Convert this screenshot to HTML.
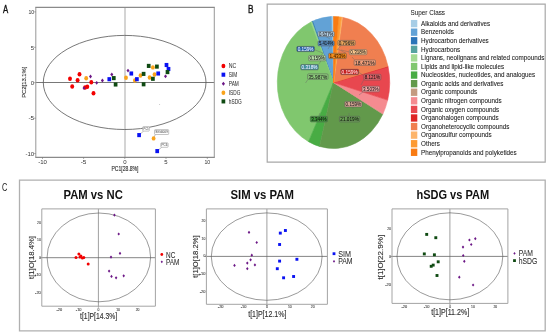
<!DOCTYPE html>
<html><head><meta charset="utf-8"><style>
html,body{margin:0;padding:0;background:#fff;width:550px;height:336px;overflow:hidden}
svg{display:block;font-family:"Liberation Sans", sans-serif;filter:blur(0.4px)}
</style></head><body>
<svg width="550" height="336" viewBox="0 0 550 336">
<rect width="550" height="336" fill="#fff"/>
<text x="3.00" y="12.50" font-size="10" text-anchor="start" fill="#111" textLength="5.20" lengthAdjust="spacingAndGlyphs" stroke="#111" stroke-width="0.35" >A</text>
<line x1="125" y1="7.5" x2="125" y2="157" stroke="#c2c2c2" stroke-width="1.4"/>
<line x1="36" y1="82.5" x2="214.2" y2="82.5" stroke="#606060" stroke-width="0.85"/>
<ellipse cx="124.65" cy="82.45" rx="81.35" ry="47.05" fill="none" stroke="#555" stroke-width="0.8"/>
<path d="M35.8 7.4V157.3M214.3 7.4V157.3" fill="none" stroke="#9c9c9c" stroke-width="1.05"/>
<path d="M35.3 7.4H214.8M35.3 157.3H214.8" fill="none" stroke="#8a8a8a" stroke-width="1.2"/>
<line x1="34" y1="11.9" x2="35.9" y2="11.9" stroke="#777" stroke-width="0.6"/>
<text x="34.20" y="14.10" font-size="6" text-anchor="end" fill="#333" textLength="5.80" lengthAdjust="spacingAndGlyphs" >10</text>
<line x1="34" y1="47.3" x2="35.9" y2="47.3" stroke="#777" stroke-width="0.6"/>
<text x="34.20" y="49.50" font-size="6" text-anchor="end" fill="#333" >5</text>
<line x1="34" y1="82.7" x2="35.9" y2="82.7" stroke="#777" stroke-width="0.6"/>
<text x="34.20" y="84.90" font-size="6" text-anchor="end" fill="#333" >0</text>
<line x1="34" y1="118.2" x2="35.9" y2="118.2" stroke="#777" stroke-width="0.6"/>
<text x="34.20" y="120.40" font-size="6" text-anchor="end" fill="#333" textLength="5.80" lengthAdjust="spacingAndGlyphs" >-5</text>
<line x1="34" y1="153.6" x2="35.9" y2="153.6" stroke="#777" stroke-width="0.6"/>
<text x="34.20" y="155.80" font-size="6" text-anchor="end" fill="#333" textLength="8.70" lengthAdjust="spacingAndGlyphs" >-10</text>
<line x1="42.5" y1="157.3" x2="42.5" y2="159" stroke="#777" stroke-width="0.6"/>
<text x="42.50" y="163.80" font-size="6" text-anchor="middle" fill="#333" textLength="8.70" lengthAdjust="spacingAndGlyphs" >-10</text>
<line x1="83.6" y1="157.3" x2="83.6" y2="159" stroke="#777" stroke-width="0.6"/>
<text x="83.60" y="163.80" font-size="6" text-anchor="middle" fill="#333" textLength="5.80" lengthAdjust="spacingAndGlyphs" >-5</text>
<line x1="124.8" y1="157.3" x2="124.8" y2="159" stroke="#777" stroke-width="0.6"/>
<text x="124.80" y="163.80" font-size="6" text-anchor="middle" fill="#333" >0</text>
<line x1="166" y1="157.3" x2="166" y2="159" stroke="#777" stroke-width="0.6"/>
<text x="166.00" y="163.80" font-size="6" text-anchor="middle" fill="#333" >5</text>
<line x1="207.3" y1="157.3" x2="207.3" y2="159" stroke="#777" stroke-width="0.6"/>
<text x="207.30" y="163.80" font-size="6" text-anchor="middle" fill="#333" textLength="5.80" lengthAdjust="spacingAndGlyphs" >10</text>
<g transform="translate(23.40,82.20) scale(0.865,1)"><text transform="rotate(-90)" x="0" y="2.60" font-size="6.5" text-anchor="middle" fill="#333" textLength="31.3" lengthAdjust="spacingAndGlyphs" stroke="#333" stroke-width="0.15">PC2[13.1%]</text></g>
<text x="125.00" y="171.00" font-size="6.5" text-anchor="middle" fill="#333" textLength="27.00" lengthAdjust="spacingAndGlyphs" stroke="#333" stroke-width="0.15" >PC1[28.8%]</text>
<line x1="139.1" y1="135.1" x2="143.5" y2="131.1" stroke="#777" stroke-width="0.5"/>
<rect x="142.7" y="126.6" width="6.60" height="4.50" rx="0.8" fill="#fff" stroke="#888" stroke-width="0.5"/>
<text x="146.00" y="129.90" font-size="3.2" text-anchor="middle" fill="#333" textLength="5.10" lengthAdjust="spacingAndGlyphs" >PC5</text>
<line x1="153.6" y1="138.4" x2="155.3" y2="134.5" stroke="#777" stroke-width="0.5"/>
<rect x="154.5" y="129.6" width="14.20" height="4.90" rx="0.8" fill="#fff" stroke="#888" stroke-width="0.5"/>
<text x="161.60" y="133.30" font-size="3.2" text-anchor="middle" fill="#333" textLength="12.70" lengthAdjust="spacingAndGlyphs" >SIG4009</text>
<line x1="157.2" y1="151.1" x2="161.60000000000002" y2="147.3" stroke="#777" stroke-width="0.5"/>
<rect x="160.8" y="142.8" width="7.30" height="4.50" rx="0.8" fill="#fff" stroke="#888" stroke-width="0.5"/>
<text x="164.45" y="146.10" font-size="3.2" text-anchor="middle" fill="#333" textLength="5.80" lengthAdjust="spacingAndGlyphs" >PC6</text>
<ellipse cx="70.00" cy="78.80" rx="1.95" ry="2.25" fill="#f20000"/>
<ellipse cx="79.50" cy="74.30" rx="1.95" ry="2.25" fill="#f20000"/>
<ellipse cx="77.60" cy="80.30" rx="1.95" ry="2.25" fill="#f20000"/>
<ellipse cx="72.20" cy="86.50" rx="1.95" ry="2.25" fill="#f20000"/>
<ellipse cx="91.30" cy="82.30" rx="1.95" ry="2.25" fill="#f20000"/>
<ellipse cx="87.30" cy="86.80" rx="1.95" ry="2.25" fill="#f20000"/>
<ellipse cx="85.10" cy="87.40" rx="1.95" ry="2.25" fill="#f20000"/>
<ellipse cx="93.50" cy="93.20" rx="1.95" ry="2.25" fill="#f20000"/>
<ellipse cx="86.20" cy="78.30" rx="1.9" ry="2.2" fill="#f9a31b"/>
<ellipse cx="126.00" cy="77.70" rx="1.9" ry="2.2" fill="#f9a31b"/>
<ellipse cx="134.90" cy="80.50" rx="1.9" ry="2.2" fill="#f9a31b"/>
<ellipse cx="140.50" cy="75.50" rx="1.9" ry="2.2" fill="#f9a31b"/>
<ellipse cx="152.90" cy="67.40" rx="1.9" ry="2.2" fill="#f9a31b"/>
<ellipse cx="149.60" cy="77.50" rx="1.9" ry="2.2" fill="#f9a31b"/>
<ellipse cx="154.50" cy="74.50" rx="1.9" ry="2.2" fill="#f9a31b"/>
<ellipse cx="153.60" cy="138.40" rx="1.9" ry="2.2" fill="#f9a31b"/>
<path d="M90.50 74.60L92.02 76.50L90.50 78.40L88.98 76.50Z" fill="#6c1786"/>
<path d="M84.00 86.20L85.52 88.10L84.00 90.00L82.48 88.10Z" fill="#6c1786"/>
<path d="M96.70 80.90L98.22 82.80L96.70 84.70L95.18 82.80Z" fill="#6c1786"/>
<path d="M102.40 78.60L103.92 80.50L102.40 82.40L100.88 80.50Z" fill="#6c1786"/>
<path d="M111.80 72.60L113.32 74.50L111.80 76.40L110.28 74.50Z" fill="#6c1786"/>
<path d="M128.00 68.70L129.52 70.60L128.00 72.50L126.48 70.60Z" fill="#6c1786"/>
<path d="M165.50 74.40L167.02 76.30L165.50 78.20L163.98 76.30Z" fill="#6c1786"/>
<rect x="107.45" y="77.15" width="3.7" height="4.1" fill="#0a12f2"/>
<rect x="129.45" y="71.45" width="3.7" height="4.1" fill="#0a12f2"/>
<rect x="135.05" y="77.15" width="3.7" height="4.1" fill="#0a12f2"/>
<rect x="156.35" y="71.45" width="3.7" height="4.1" fill="#0a12f2"/>
<rect x="164.65" y="62.95" width="3.7" height="4.1" fill="#0a12f2"/>
<rect x="166.65" y="66.95" width="3.7" height="4.1" fill="#0a12f2"/>
<rect x="137.25" y="133.05" width="3.7" height="4.1" fill="#0a12f2"/>
<rect x="155.35" y="149.05" width="3.7" height="4.1" fill="#0a12f2"/>
<rect x="111.95" y="76.05" width="3.7" height="4.1" fill="#0f4a12"/>
<rect x="113.75" y="82.45" width="3.7" height="4.1" fill="#0f4a12"/>
<rect x="141.75" y="71.85" width="3.7" height="4.1" fill="#0f4a12"/>
<rect x="141.75" y="82.25" width="3.7" height="4.1" fill="#0f4a12"/>
<rect x="146.85" y="63.85" width="3.7" height="4.1" fill="#0f4a12"/>
<rect x="155.05" y="64.55" width="3.7" height="4.1" fill="#0f4a12"/>
<rect x="151.05" y="76.75" width="3.7" height="4.1" fill="#0f4a12"/>
<rect x="165.65" y="70.05" width="3.7" height="4.1" fill="#0f4a12"/>
<circle cx="159.60" cy="104.50" r="0.5" fill="#bbb"/>
<ellipse cx="223.40" cy="66.00" rx="1.95" ry="2.25" fill="#f20000"/>
<rect x="221.55" y="72.65" width="3.7" height="4.1" fill="#0a12f2"/>
<path d="M223.40 81.70L225.00 83.70L223.40 85.70L221.80 83.70Z" fill="#6c1786"/>
<ellipse cx="223.40" cy="92.70" rx="1.9" ry="2.2" fill="#f9a31b"/>
<rect x="221.55" y="99.35" width="3.7" height="4.1" fill="#0f4a12"/>
<text x="228.80" y="68.40" font-size="6.8" text-anchor="start" fill="#333" textLength="7.50" lengthAdjust="spacingAndGlyphs" stroke="#333" stroke-width="0.05" >NC</text>
<text x="228.80" y="77.10" font-size="6.8" text-anchor="start" fill="#333" textLength="8.50" lengthAdjust="spacingAndGlyphs" stroke="#333" stroke-width="0.05" >SIM</text>
<text x="228.80" y="86.10" font-size="6.8" text-anchor="start" fill="#333" textLength="10.00" lengthAdjust="spacingAndGlyphs" stroke="#333" stroke-width="0.05" >PAM</text>
<text x="228.80" y="95.10" font-size="6.8" text-anchor="start" fill="#333" textLength="11.50" lengthAdjust="spacingAndGlyphs" stroke="#333" stroke-width="0.05" >ISDG</text>
<text x="228.80" y="103.80" font-size="6.8" text-anchor="start" fill="#333" textLength="13.00" lengthAdjust="spacingAndGlyphs" stroke="#333" stroke-width="0.05" >hSDG</text>
<text x="248.00" y="12.80" font-size="10" text-anchor="start" fill="#111" textLength="5.50" lengthAdjust="spacingAndGlyphs" stroke="#111" stroke-width="0.35" >B</text>
<path d="M267.2 4.2H545.2V162.1H267.2Z" fill="none" stroke="#a8a8a8" stroke-width="1.2"/>
<path d="M333.5 82.5L333.50 16.50A56.2 66.0 0 0 0 331.25 16.55Z" fill="#a6cde6" stroke="#a6cde6" stroke-width="0.6" stroke-linejoin="round"/>
<path d="M333.5 82.5L331.25 16.55A56.2 66.0 0 0 0 312.64 21.21Z" fill="#62a2d6" stroke="#62a2d6" stroke-width="0.6" stroke-linejoin="round"/>
<path d="M333.5 82.5L312.64 21.21A56.2 66.0 0 0 0 312.12 21.46Z" fill="#2b74b8" stroke="#2b74b8" stroke-width="0.6" stroke-linejoin="round"/>
<path d="M333.5 82.5L312.12 21.46A56.2 66.0 0 0 0 311.60 21.71Z" fill="#56a3a0" stroke="#56a3a0" stroke-width="0.6" stroke-linejoin="round"/>
<path d="M333.5 82.5L311.60 21.71A56.2 66.0 0 0 0 310.58 22.24Z" fill="#a3da92" stroke="#a3da92" stroke-width="0.6" stroke-linejoin="round"/>
<path d="M333.5 82.5L310.58 22.24A56.2 66.0 0 0 0 308.54 141.63Z" fill="#80c76e" stroke="#80c76e" stroke-width="0.6" stroke-linejoin="round"/>
<path d="M333.5 82.5L308.54 141.63A56.2 66.0 0 0 0 319.59 146.45Z" fill="#48ac44" stroke="#48ac44" stroke-width="0.6" stroke-linejoin="round"/>
<path d="M333.5 82.5L319.59 146.45A56.2 66.0 0 0 0 382.81 114.15Z" fill="#62994b" stroke="#62994b" stroke-width="0.6" stroke-linejoin="round"/>
<path d="M333.5 82.5L382.81 114.15A56.2 66.0 0 0 0 383.08 113.57Z" fill="#c49b80" stroke="#c49b80" stroke-width="0.6" stroke-linejoin="round"/>
<path d="M333.5 82.5L383.08 113.57A56.2 66.0 0 0 0 387.66 100.11Z" fill="#f58b90" stroke="#f58b90" stroke-width="0.6" stroke-linejoin="round"/>
<path d="M333.5 82.5L387.66 100.11A56.2 66.0 0 0 0 388.09 66.80Z" fill="#e8474f" stroke="#e8474f" stroke-width="0.6" stroke-linejoin="round"/>
<path d="M333.5 82.5L388.09 66.80A56.2 66.0 0 0 0 387.95 66.16Z" fill="#de2424" stroke="#de2424" stroke-width="0.6" stroke-linejoin="round"/>
<path d="M333.5 82.5L387.95 66.16A56.2 66.0 0 0 0 342.46 17.34Z" fill="#f07f50" stroke="#f07f50" stroke-width="0.6" stroke-linejoin="round"/>
<path d="M333.5 82.5L342.46 17.34A56.2 66.0 0 0 0 341.35 17.15Z" fill="#fdb46a" stroke="#fdb46a" stroke-width="0.6" stroke-linejoin="round"/>
<path d="M333.5 82.5L341.35 17.15A56.2 66.0 0 0 0 338.55 16.77Z" fill="#fd9a32" stroke="#fd9a32" stroke-width="0.6" stroke-linejoin="round"/>
<path d="M333.5 82.5L338.55 16.77A56.2 66.0 0 0 0 333.50 16.50Z" fill="#f97b12" stroke="#f97b12" stroke-width="0.6" stroke-linejoin="round"/>
<line x1="326" y1="36.6" x2="330" y2="39" stroke="#666" stroke-width="0.4"/>
<line x1="330" y1="45.9" x2="328" y2="49" stroke="#666" stroke-width="0.4"/>
<line x1="313.8" y1="49.5" x2="323" y2="53" stroke="#666" stroke-width="0.4"/>
<line x1="323" y1="53" x2="321" y2="55.6" stroke="#666" stroke-width="0.4"/>
<line x1="321" y1="60.8" x2="318.5" y2="64.6" stroke="#666" stroke-width="0.4"/>
<line x1="308" y1="79.4" x2="305.5" y2="83" stroke="#666" stroke-width="0.4"/>
<line x1="341" y1="45.4" x2="337" y2="50" stroke="#666" stroke-width="0.4"/>
<line x1="349.4" y1="52" x2="341" y2="50" stroke="#666" stroke-width="0.4"/>
<line x1="346" y1="53.3" x2="338" y2="49" stroke="#666" stroke-width="0.4"/>
<line x1="354.5" y1="59.8" x2="352" y2="57" stroke="#666" stroke-width="0.4"/>
<line x1="358" y1="71.5" x2="364" y2="76" stroke="#666" stroke-width="0.4"/>
<line x1="364" y1="79.4" x2="361" y2="85" stroke="#666" stroke-width="0.4"/>
<line x1="363" y1="91.9" x2="359" y2="95" stroke="#666" stroke-width="0.4"/>
<line x1="353" y1="106.9" x2="353" y2="109" stroke="#666" stroke-width="0.4"/>
<line x1="318.5" y1="116.3" x2="320" y2="113" stroke="#666" stroke-width="0.4"/>
<line x1="349" y1="116.3" x2="349" y2="113" stroke="#666" stroke-width="0.4"/>
<rect x="318.0" y="31.6" width="16.20" height="5.00" rx="1" fill="#b5d0e6" stroke="#555" stroke-width="0.5"/>
<text x="326.10" y="35.70" font-size="5.8" text-anchor="middle" fill="#222" textLength="14.40" lengthAdjust="spacingAndGlyphs" stroke="#222" stroke-width="0.08" >0.637%</text>
<rect x="318.0" y="40.9" width="16.20" height="5.00" rx="1" fill="#5a90c4" stroke="#555" stroke-width="0.5"/>
<text x="326.10" y="45.00" font-size="5.8" text-anchor="middle" fill="#111" textLength="14.40" lengthAdjust="spacingAndGlyphs" stroke="#111" stroke-width="0.08" >5.414%</text>
<rect x="296.8" y="46.4" width="17.60" height="5.20" rx="1" fill="#1f5fa3" stroke="#555" stroke-width="0.5"/>
<text x="305.60" y="50.70" font-size="5.8" text-anchor="middle" fill="#eef" textLength="15.80" lengthAdjust="spacingAndGlyphs" stroke="#eef" stroke-width="0.08" >0.159%</text>
<rect x="308.6" y="55.6" width="17.10" height="5.20" rx="1" fill="#b5daa6" stroke="#555" stroke-width="0.5"/>
<text x="317.15" y="59.90" font-size="5.8" text-anchor="middle" fill="#222" textLength="15.30" lengthAdjust="spacingAndGlyphs" stroke="#222" stroke-width="0.08" >0.159%</text>
<rect x="300.7" y="64.6" width="17.60" height="5.20" rx="1" fill="#3e8d9a" stroke="#555" stroke-width="0.5"/>
<text x="309.50" y="68.90" font-size="5.8" text-anchor="middle" fill="#eef" textLength="15.80" lengthAdjust="spacingAndGlyphs" stroke="#eef" stroke-width="0.08" >0.318%</text>
<rect x="307.6" y="73.9" width="20.40" height="5.50" rx="1" fill="#8ccc7a" stroke="#555" stroke-width="0.5"/>
<text x="317.80" y="78.50" font-size="5.8" text-anchor="middle" fill="#222" textLength="18.60" lengthAdjust="spacingAndGlyphs" stroke="#222" stroke-width="0.08" >35.987%</text>
<rect x="337.8" y="40.4" width="17.40" height="5.00" rx="1" fill="#eaa55c" stroke="#555" stroke-width="0.5"/>
<text x="346.50" y="44.50" font-size="5.8" text-anchor="middle" fill="#222" textLength="15.60" lengthAdjust="spacingAndGlyphs" stroke="#222" stroke-width="0.08" >0.796%</text>
<rect x="349.4" y="49.6" width="17.40" height="5.10" rx="1" fill="#fbc88e" stroke="#555" stroke-width="0.5"/>
<text x="358.10" y="53.80" font-size="5.8" text-anchor="middle" fill="#222" textLength="15.60" lengthAdjust="spacingAndGlyphs" stroke="#222" stroke-width="0.08" >0.318%</text>
<rect x="328.6" y="53.3" width="17.80" height="5.30" rx="1" fill="#f28c1c" stroke="#555" stroke-width="0.5"/>
<text x="337.50" y="57.70" font-size="5.8" text-anchor="middle" fill="#3a1a00" textLength="16.00" lengthAdjust="spacingAndGlyphs" stroke="#3a1a00" stroke-width="0.08" >1.433%</text>
<rect x="354.1" y="60.0" width="21.40" height="5.40" rx="1" fill="#f3a07a" stroke="#555" stroke-width="0.5"/>
<text x="364.80" y="64.50" font-size="5.8" text-anchor="middle" fill="#222" textLength="19.60" lengthAdjust="spacingAndGlyphs" stroke="#222" stroke-width="0.08" >18.471%</text>
<rect x="340.7" y="69.3" width="17.90" height="5.30" rx="1" fill="#c41e1e" stroke="#555" stroke-width="0.5"/>
<text x="349.65" y="73.70" font-size="5.8" text-anchor="middle" fill="#fdd" textLength="16.10" lengthAdjust="spacingAndGlyphs" stroke="#fdd" stroke-width="0.08" >0.159%</text>
<rect x="363.9" y="74.3" width="17.00" height="5.70" rx="1" fill="#e7646a" stroke="#555" stroke-width="0.5"/>
<text x="372.40" y="79.10" font-size="5.8" text-anchor="middle" fill="#111" textLength="15.20" lengthAdjust="spacingAndGlyphs" stroke="#111" stroke-width="0.08" >8.121%</text>
<rect x="362.1" y="86.25" width="17.40" height="5.55" rx="1" fill="#f6a4a4" stroke="#555" stroke-width="0.5"/>
<text x="370.80" y="90.90" font-size="5.8" text-anchor="middle" fill="#222" textLength="15.60" lengthAdjust="spacingAndGlyphs" stroke="#222" stroke-width="0.08" >3.503%</text>
<rect x="344.7" y="101.6" width="17.20" height="5.30" rx="1" fill="#d8a896" stroke="#555" stroke-width="0.5"/>
<text x="353.30" y="106.00" font-size="5.8" text-anchor="middle" fill="#222" textLength="15.40" lengthAdjust="spacingAndGlyphs" stroke="#222" stroke-width="0.08" >0.159%</text>
<rect x="310.3" y="116.3" width="17.20" height="5.60" rx="1" fill="#3f9a3b" stroke="#555" stroke-width="0.5"/>
<text x="318.90" y="121.00" font-size="5.8" text-anchor="middle" fill="#111" textLength="15.40" lengthAdjust="spacingAndGlyphs" stroke="#111" stroke-width="0.08" >3.344%</text>
<rect x="339.4" y="116.3" width="20.30" height="5.60" rx="1" fill="#6aa255" stroke="#555" stroke-width="0.5"/>
<text x="349.55" y="121.00" font-size="5.8" text-anchor="middle" fill="#111" textLength="18.50" lengthAdjust="spacingAndGlyphs" stroke="#111" stroke-width="0.08" >21.019%</text>
<text x="410.50" y="14.60" font-size="8" text-anchor="start" fill="#1a1a1a" textLength="34.50" lengthAdjust="spacingAndGlyphs" stroke="#1a1a1a" stroke-width="0.05" >Super Class</text>
<rect x="410.9" y="19.95" width="6.4" height="7.3" fill="#a6cde6"/>
<text x="421.00" y="25.85" font-size="8" text-anchor="start" fill="#1a1a1a" textLength="69.17" lengthAdjust="spacingAndGlyphs" stroke="#1a1a1a" stroke-width="0.08" >Alkaloids and derivatives</text>
<rect x="410.9" y="28.53" width="6.4" height="7.3" fill="#62a2d6"/>
<text x="421.00" y="34.43" font-size="8" text-anchor="start" fill="#1a1a1a" textLength="32.84" lengthAdjust="spacingAndGlyphs" stroke="#1a1a1a" stroke-width="0.08" >Benzenoids</text>
<rect x="410.9" y="37.11" width="6.4" height="7.3" fill="#2b74b8"/>
<text x="421.00" y="43.01" font-size="8" text-anchor="start" fill="#1a1a1a" textLength="67.77" lengthAdjust="spacingAndGlyphs" stroke="#1a1a1a" stroke-width="0.08" >Hydrocarbon derivatives</text>
<rect x="410.9" y="45.69" width="6.4" height="7.3" fill="#56a3a0"/>
<text x="421.00" y="51.59" font-size="8" text-anchor="start" fill="#1a1a1a" textLength="39.12" lengthAdjust="spacingAndGlyphs" stroke="#1a1a1a" stroke-width="0.08" >Hydrocarbons</text>
<rect x="410.9" y="54.27" width="6.4" height="7.3" fill="#a3da92"/>
<text x="421.00" y="60.17" font-size="8" text-anchor="start" fill="#1a1a1a" textLength="123.34" lengthAdjust="spacingAndGlyphs" stroke="#1a1a1a" stroke-width="0.08" >Lignans, neolignans and related compounds</text>
<rect x="410.9" y="62.85" width="6.4" height="7.3" fill="#80c76e"/>
<text x="421.00" y="68.75" font-size="8" text-anchor="start" fill="#1a1a1a" textLength="83.14" lengthAdjust="spacingAndGlyphs" stroke="#1a1a1a" stroke-width="0.08" >Lipids and lipid-like molecules</text>
<rect x="410.9" y="71.43" width="6.4" height="7.3" fill="#48ac44"/>
<text x="421.00" y="77.33" font-size="8" text-anchor="start" fill="#1a1a1a" textLength="114.25" lengthAdjust="spacingAndGlyphs" stroke="#1a1a1a" stroke-width="0.08" >Nucleosides, nucleotides, and analogues</text>
<rect x="410.9" y="80.01" width="6.4" height="7.3" fill="#62994b"/>
<text x="421.00" y="85.91" font-size="8" text-anchor="start" fill="#1a1a1a" textLength="82.44" lengthAdjust="spacingAndGlyphs" stroke="#1a1a1a" stroke-width="0.08" >Organic acids and derivatives</text>
<rect x="410.9" y="88.59" width="6.4" height="7.3" fill="#c49b80"/>
<text x="421.00" y="94.49" font-size="8" text-anchor="start" fill="#1a1a1a" textLength="56.24" lengthAdjust="spacingAndGlyphs" stroke="#1a1a1a" stroke-width="0.08" >Organic compounds</text>
<rect x="410.9" y="97.17" width="6.4" height="7.3" fill="#f58b90"/>
<text x="421.00" y="103.07" font-size="8" text-anchor="start" fill="#1a1a1a" textLength="80.70" lengthAdjust="spacingAndGlyphs" stroke="#1a1a1a" stroke-width="0.08" >Organic nitrogen compounds</text>
<rect x="410.9" y="105.75" width="6.4" height="7.3" fill="#e8474f"/>
<text x="421.00" y="111.65" font-size="8" text-anchor="start" fill="#1a1a1a" textLength="78.25" lengthAdjust="spacingAndGlyphs" stroke="#1a1a1a" stroke-width="0.08" >Organic oxygen compounds</text>
<rect x="410.9" y="114.33" width="6.4" height="7.3" fill="#de2424"/>
<text x="421.00" y="120.23" font-size="8" text-anchor="start" fill="#1a1a1a" textLength="77.56" lengthAdjust="spacingAndGlyphs" stroke="#1a1a1a" stroke-width="0.08" >Organohalogen compounds</text>
<rect x="410.9" y="122.91" width="6.4" height="7.3" fill="#f07f50"/>
<text x="421.00" y="128.81" font-size="8" text-anchor="start" fill="#1a1a1a" textLength="88.38" lengthAdjust="spacingAndGlyphs" stroke="#1a1a1a" stroke-width="0.08" >Organoheterocyclic compounds</text>
<rect x="410.9" y="131.49" width="6.4" height="7.3" fill="#fdb46a"/>
<text x="421.00" y="137.39" font-size="8" text-anchor="start" fill="#1a1a1a" textLength="70.57" lengthAdjust="spacingAndGlyphs" stroke="#1a1a1a" stroke-width="0.08" >Organosulfur compounds</text>
<rect x="410.9" y="140.07" width="6.4" height="7.3" fill="#fd9a32"/>
<text x="421.00" y="145.97" font-size="8" text-anchor="start" fill="#1a1a1a" textLength="18.86" lengthAdjust="spacingAndGlyphs" stroke="#1a1a1a" stroke-width="0.08" >Others</text>
<rect x="410.9" y="148.65" width="6.4" height="7.3" fill="#f97b12"/>
<text x="421.00" y="154.55" font-size="8" text-anchor="start" fill="#1a1a1a" textLength="95.73" lengthAdjust="spacingAndGlyphs" stroke="#1a1a1a" stroke-width="0.08" >Phenylpropanoids and polyketides</text>
<text x="2.10" y="190.80" font-size="11" text-anchor="start" fill="#222" textLength="5.30" lengthAdjust="spacingAndGlyphs" >C</text>
<path d="M19.5 180.2H545.2V330.8H19.5Z" fill="none" stroke="#b0b0b0" stroke-width="1.3"/>
<line x1="98.4" y1="208.9" x2="98.4" y2="307.7" stroke="#808080" stroke-width="0.75"/>
<line x1="40.3" y1="257.7" x2="155.4" y2="257.7" stroke="#666" stroke-width="0.8"/>
<ellipse cx="98.85" cy="257.4" rx="51.75" ry="44.4" fill="none" stroke="#555" stroke-width="0.6"/>
<path d="M41.8 208.9H155.4V306.2H41.8Z" fill="none" stroke="#a4a4a4" stroke-width="1"/>
<text x="63.50" y="198.60" font-size="12.3" text-anchor="start" fill="#111" font-weight="bold" textLength="59.30" lengthAdjust="spacingAndGlyphs" >PAM vs NC</text>
<text x="59.30" y="311.10" font-size="4.0" text-anchor="middle" fill="#444" textLength="5.70" lengthAdjust="spacingAndGlyphs" stroke="#444" stroke-width="0.1" >-20</text>
<text x="78.70" y="311.10" font-size="4.0" text-anchor="middle" fill="#444" textLength="5.70" lengthAdjust="spacingAndGlyphs" stroke="#444" stroke-width="0.1" >-10</text>
<text x="98.40" y="311.10" font-size="4.0" text-anchor="middle" fill="#444" textLength="1.90" lengthAdjust="spacingAndGlyphs" stroke="#444" stroke-width="0.1" >0</text>
<text x="118.10" y="311.10" font-size="4.0" text-anchor="middle" fill="#444" textLength="3.80" lengthAdjust="spacingAndGlyphs" stroke="#444" stroke-width="0.1" >10</text>
<text x="137.60" y="311.10" font-size="4.0" text-anchor="middle" fill="#444" textLength="3.80" lengthAdjust="spacingAndGlyphs" stroke="#444" stroke-width="0.1" >20</text>
<text x="40.80" y="224.00" font-size="4.0" text-anchor="end" fill="#444" textLength="3.80" lengthAdjust="spacingAndGlyphs" stroke="#444" stroke-width="0.1" >20</text>
<text x="40.80" y="241.40" font-size="4.0" text-anchor="end" fill="#444" textLength="3.80" lengthAdjust="spacingAndGlyphs" stroke="#444" stroke-width="0.1" >10</text>
<text x="40.80" y="258.90" font-size="4.0" text-anchor="end" fill="#444" textLength="1.90" lengthAdjust="spacingAndGlyphs" stroke="#444" stroke-width="0.1" >0</text>
<text x="40.80" y="276.30" font-size="4.0" text-anchor="end" fill="#444" textLength="5.70" lengthAdjust="spacingAndGlyphs" stroke="#444" stroke-width="0.1" >-10</text>
<text x="40.80" y="293.70" font-size="4.0" text-anchor="end" fill="#444" textLength="5.70" lengthAdjust="spacingAndGlyphs" stroke="#444" stroke-width="0.1" >-20</text>
<g transform="translate(30.60,257.50) scale(0.833,1)"><text transform="rotate(-90)" x="0" y="3.60" font-size="9" text-anchor="middle" fill="#333" textLength="43" lengthAdjust="spacingAndGlyphs" stroke="#333" stroke-width="0.15">t[1]O[18.4%]</text></g>
<text x="98.60" y="319.00" font-size="9" text-anchor="middle" fill="#333" textLength="37.00" lengthAdjust="spacingAndGlyphs" stroke="#333" stroke-width="0.15" >t[1]P[14.3%]</text>
<circle cx="161.80" cy="254.50" r="1.4" fill="#f20000"/>
<text x="166.00" y="257.50" font-size="8.2" text-anchor="start" fill="#2a2a2a" textLength="9.30" lengthAdjust="spacingAndGlyphs" stroke="#2a2a2a" stroke-width="0.05" >NC</text>
<path d="M161.80 260.40L162.92 261.80L161.80 263.20L160.68 261.80Z" fill="#6c1786"/>
<text x="166.00" y="264.80" font-size="8.2" text-anchor="start" fill="#2a2a2a" textLength="13.40" lengthAdjust="spacingAndGlyphs" stroke="#2a2a2a" stroke-width="0.05" >PAM</text>
<circle cx="76.00" cy="257.50" r="1.5" fill="#f20000"/>
<circle cx="78.90" cy="254.00" r="1.5" fill="#f20000"/>
<circle cx="80.90" cy="256.00" r="1.5" fill="#f20000"/>
<circle cx="82.40" cy="258.00" r="1.5" fill="#f20000"/>
<circle cx="83.80" cy="257.50" r="1.5" fill="#f20000"/>
<circle cx="88.20" cy="263.90" r="1.5" fill="#f20000"/>
<circle cx="80.00" cy="257.00" r="1.5" fill="#f20000"/>
<path d="M114.40 213.50L115.68 215.10L114.40 216.70L113.12 215.10Z" fill="#6c1786"/>
<path d="M118.70 232.40L119.98 234.00L118.70 235.60L117.42 234.00Z" fill="#6c1786"/>
<path d="M120.00 251.70L121.28 253.30L120.00 254.90L118.72 253.30Z" fill="#6c1786"/>
<path d="M111.00 255.50L112.28 257.10L111.00 258.70L109.72 257.10Z" fill="#6c1786"/>
<path d="M109.10 269.50L110.38 271.10L109.10 272.70L107.82 271.10Z" fill="#6c1786"/>
<path d="M111.50 274.80L112.78 276.40L111.50 278.00L110.22 276.40Z" fill="#6c1786"/>
<path d="M116.10 276.20L117.38 277.80L116.10 279.40L114.82 277.80Z" fill="#6c1786"/>
<path d="M123.70 274.20L124.98 275.80L123.70 277.40L122.42 275.80Z" fill="#6c1786"/>
<line x1="266.9" y1="208.9" x2="266.9" y2="305.8" stroke="#808080" stroke-width="0.75"/>
<line x1="204.9" y1="256.4" x2="327.4" y2="256.4" stroke="#666" stroke-width="0.8"/>
<ellipse cx="266.7" cy="256.6" rx="55.4" ry="43.7" fill="none" stroke="#555" stroke-width="0.6"/>
<path d="M206.4 208.9H327.4V304.3H206.4Z" fill="none" stroke="#a4a4a4" stroke-width="1"/>
<text x="230.50" y="198.60" font-size="12.3" text-anchor="start" fill="#111" font-weight="bold" textLength="63.40" lengthAdjust="spacingAndGlyphs" >SIM vs PAM</text>
<text x="220.70" y="308.10" font-size="4.0" text-anchor="middle" fill="#444" textLength="5.70" lengthAdjust="spacingAndGlyphs" stroke="#444" stroke-width="0.1" >-20</text>
<text x="243.60" y="308.10" font-size="4.0" text-anchor="middle" fill="#444" textLength="5.70" lengthAdjust="spacingAndGlyphs" stroke="#444" stroke-width="0.1" >-10</text>
<text x="266.90" y="308.10" font-size="4.0" text-anchor="middle" fill="#444" textLength="1.90" lengthAdjust="spacingAndGlyphs" stroke="#444" stroke-width="0.1" >0</text>
<text x="289.80" y="308.10" font-size="4.0" text-anchor="middle" fill="#444" textLength="3.80" lengthAdjust="spacingAndGlyphs" stroke="#444" stroke-width="0.1" >10</text>
<text x="312.70" y="308.10" font-size="4.0" text-anchor="middle" fill="#444" textLength="3.80" lengthAdjust="spacingAndGlyphs" stroke="#444" stroke-width="0.1" >20</text>
<text x="205.40" y="221.80" font-size="4.0" text-anchor="end" fill="#444" textLength="3.80" lengthAdjust="spacingAndGlyphs" stroke="#444" stroke-width="0.1" >20</text>
<text x="205.40" y="239.60" font-size="4.0" text-anchor="end" fill="#444" textLength="3.80" lengthAdjust="spacingAndGlyphs" stroke="#444" stroke-width="0.1" >10</text>
<text x="205.40" y="257.40" font-size="4.0" text-anchor="end" fill="#444" textLength="1.90" lengthAdjust="spacingAndGlyphs" stroke="#444" stroke-width="0.1" >0</text>
<text x="205.40" y="275.20" font-size="4.0" text-anchor="end" fill="#444" textLength="5.70" lengthAdjust="spacingAndGlyphs" stroke="#444" stroke-width="0.1" >-10</text>
<text x="205.40" y="293.40" font-size="4.0" text-anchor="end" fill="#444" textLength="5.70" lengthAdjust="spacingAndGlyphs" stroke="#444" stroke-width="0.1" >-20</text>
<g transform="translate(194.50,256.60) scale(0.833,1)"><text transform="rotate(-90)" x="0" y="3.60" font-size="9" text-anchor="middle" fill="#333" textLength="42.5" lengthAdjust="spacingAndGlyphs" stroke="#333" stroke-width="0.15">t[1]O[18.2%]</text></g>
<text x="267.30" y="317.00" font-size="9" text-anchor="middle" fill="#333" textLength="38.20" lengthAdjust="spacingAndGlyphs" stroke="#333" stroke-width="0.15" >t[1]P[12.1%]</text>
<rect x="332.60" y="252.30" width="2.8" height="2.8" fill="#0a12f2"/>
<text x="338.20" y="256.70" font-size="8.2" text-anchor="start" fill="#2a2a2a" textLength="12.80" lengthAdjust="spacingAndGlyphs" stroke="#2a2a2a" stroke-width="0.05" >SIM</text>
<path d="M334.00 259.90L335.12 261.30L334.00 262.70L332.88 261.30Z" fill="#6c1786"/>
<text x="338.20" y="264.30" font-size="8.2" text-anchor="start" fill="#2a2a2a" textLength="14.40" lengthAdjust="spacingAndGlyphs" stroke="#2a2a2a" stroke-width="0.05" >PAM</text>
<path d="M249.00 230.70L250.28 232.30L249.00 233.90L247.72 232.30Z" fill="#6c1786"/>
<path d="M256.70 240.90L257.98 242.50L256.70 244.10L255.42 242.50Z" fill="#6c1786"/>
<path d="M251.80 253.60L253.08 255.20L251.80 256.80L250.52 255.20Z" fill="#6c1786"/>
<path d="M250.60 258.20L251.88 259.80L250.60 261.40L249.32 259.80Z" fill="#6c1786"/>
<path d="M247.30 261.50L248.58 263.10L247.30 264.70L246.02 263.10Z" fill="#6c1786"/>
<path d="M254.90 263.30L256.18 264.90L254.90 266.50L253.62 264.90Z" fill="#6c1786"/>
<path d="M234.50 263.80L235.78 265.40L234.50 267.00L233.22 265.40Z" fill="#6c1786"/>
<path d="M247.30 267.10L248.58 268.70L247.30 270.30L246.02 268.70Z" fill="#6c1786"/>
<rect x="278.85" y="231.65" width="2.9" height="2.9" fill="#0a12f2"/>
<rect x="283.95" y="229.05" width="2.9" height="2.9" fill="#0a12f2"/>
<rect x="278.15" y="243.05" width="2.9" height="2.9" fill="#0a12f2"/>
<rect x="278.15" y="259.65" width="2.9" height="2.9" fill="#0a12f2"/>
<rect x="295.45" y="257.85" width="2.9" height="2.9" fill="#0a12f2"/>
<rect x="275.85" y="267.25" width="2.9" height="2.9" fill="#0a12f2"/>
<rect x="282.15" y="276.35" width="2.9" height="2.9" fill="#0a12f2"/>
<rect x="292.15" y="275.05" width="2.9" height="2.9" fill="#0a12f2"/>
<line x1="449.9" y1="208.9" x2="449.9" y2="304.9" stroke="#808080" stroke-width="0.75"/>
<line x1="390.5" y1="256.4" x2="507.9" y2="256.4" stroke="#666" stroke-width="0.8"/>
<ellipse cx="449.9" cy="256.3" rx="52.9" ry="43.5" fill="none" stroke="#555" stroke-width="0.6"/>
<path d="M392 208.9H507.9V303.4H392Z" fill="none" stroke="#a4a4a4" stroke-width="1"/>
<text x="416.40" y="198.60" font-size="12.3" text-anchor="start" fill="#111" font-weight="bold" textLength="72.80" lengthAdjust="spacingAndGlyphs" >hSDG vs PAM</text>
<text x="404.40" y="307.70" font-size="4.0" text-anchor="middle" fill="#444" textLength="5.70" lengthAdjust="spacingAndGlyphs" stroke="#444" stroke-width="0.1" >-20</text>
<text x="426.60" y="307.70" font-size="4.0" text-anchor="middle" fill="#444" textLength="5.70" lengthAdjust="spacingAndGlyphs" stroke="#444" stroke-width="0.1" >-10</text>
<text x="450.20" y="307.70" font-size="4.0" text-anchor="middle" fill="#444" textLength="1.90" lengthAdjust="spacingAndGlyphs" stroke="#444" stroke-width="0.1" >0</text>
<text x="473.00" y="307.70" font-size="4.0" text-anchor="middle" fill="#444" textLength="3.80" lengthAdjust="spacingAndGlyphs" stroke="#444" stroke-width="0.1" >10</text>
<text x="495.30" y="307.70" font-size="4.0" text-anchor="middle" fill="#444" textLength="3.80" lengthAdjust="spacingAndGlyphs" stroke="#444" stroke-width="0.1" >20</text>
<text x="391.00" y="230.40" font-size="4.0" text-anchor="end" fill="#444" textLength="3.80" lengthAdjust="spacingAndGlyphs" stroke="#444" stroke-width="0.1" >20</text>
<text x="391.00" y="258.00" font-size="4.0" text-anchor="end" fill="#444" textLength="1.90" lengthAdjust="spacingAndGlyphs" stroke="#444" stroke-width="0.1" >0</text>
<text x="391.00" y="285.60" font-size="4.0" text-anchor="end" fill="#444" textLength="5.70" lengthAdjust="spacingAndGlyphs" stroke="#444" stroke-width="0.1" >-20</text>
<g transform="translate(380.35,257.20) scale(0.833,1)"><text transform="rotate(-90)" x="0" y="3.60" font-size="9" text-anchor="middle" fill="#333" textLength="44.8" lengthAdjust="spacingAndGlyphs" stroke="#333" stroke-width="0.15">t[1]O[22.9%]</text></g>
<text x="450.20" y="315.40" font-size="9" text-anchor="middle" fill="#333" textLength="38.00" lengthAdjust="spacingAndGlyphs" stroke="#333" stroke-width="0.15" >t[1]P[11.2%]</text>
<path d="M514.50 252.00L515.62 253.40L514.50 254.80L513.38 253.40Z" fill="#6c1786"/>
<text x="518.70" y="256.40" font-size="8.2" text-anchor="start" fill="#2a2a2a" textLength="14.20" lengthAdjust="spacingAndGlyphs" stroke="#2a2a2a" stroke-width="0.05" >PAM</text>
<rect x="513.10" y="259.20" width="2.8" height="2.8" fill="#0f4a12"/>
<text x="518.70" y="263.60" font-size="8.2" text-anchor="start" fill="#2a2a2a" textLength="18.60" lengthAdjust="spacingAndGlyphs" stroke="#2a2a2a" stroke-width="0.05" >hSDG</text>
<rect x="425.25" y="232.95" width="2.9" height="2.9" fill="#0f4a12"/>
<rect x="434.35" y="236.25" width="2.9" height="2.9" fill="#0f4a12"/>
<rect x="422.85" y="252.45" width="2.9" height="2.9" fill="#0f4a12"/>
<rect x="432.95" y="253.35" width="2.9" height="2.9" fill="#0f4a12"/>
<rect x="436.75" y="260.35" width="2.9" height="2.9" fill="#0f4a12"/>
<rect x="431.75" y="263.65" width="2.9" height="2.9" fill="#0f4a12"/>
<rect x="429.75" y="264.85" width="2.9" height="2.9" fill="#0f4a12"/>
<rect x="435.55" y="274.05" width="2.9" height="2.9" fill="#0f4a12"/>
<path d="M469.40 238.40L470.68 240.00L469.40 241.60L468.12 240.00Z" fill="#6c1786"/>
<path d="M475.30 237.10L476.58 238.70L475.30 240.30L474.02 238.70Z" fill="#6c1786"/>
<path d="M471.20 242.90L472.48 244.50L471.20 246.10L469.92 244.50Z" fill="#6c1786"/>
<path d="M463.00 245.50L464.28 247.10L463.00 248.70L461.72 247.10Z" fill="#6c1786"/>
<path d="M463.20 253.90L464.48 255.50L463.20 257.10L461.92 255.50Z" fill="#6c1786"/>
<path d="M464.30 259.70L465.58 261.30L464.30 262.90L463.02 261.30Z" fill="#6c1786"/>
<path d="M459.30 275.60L460.58 277.20L459.30 278.80L458.02 277.20Z" fill="#6c1786"/>
<path d="M473.10 283.40L474.38 285.00L473.10 286.60L471.82 285.00Z" fill="#6c1786"/>
</svg></body></html>
